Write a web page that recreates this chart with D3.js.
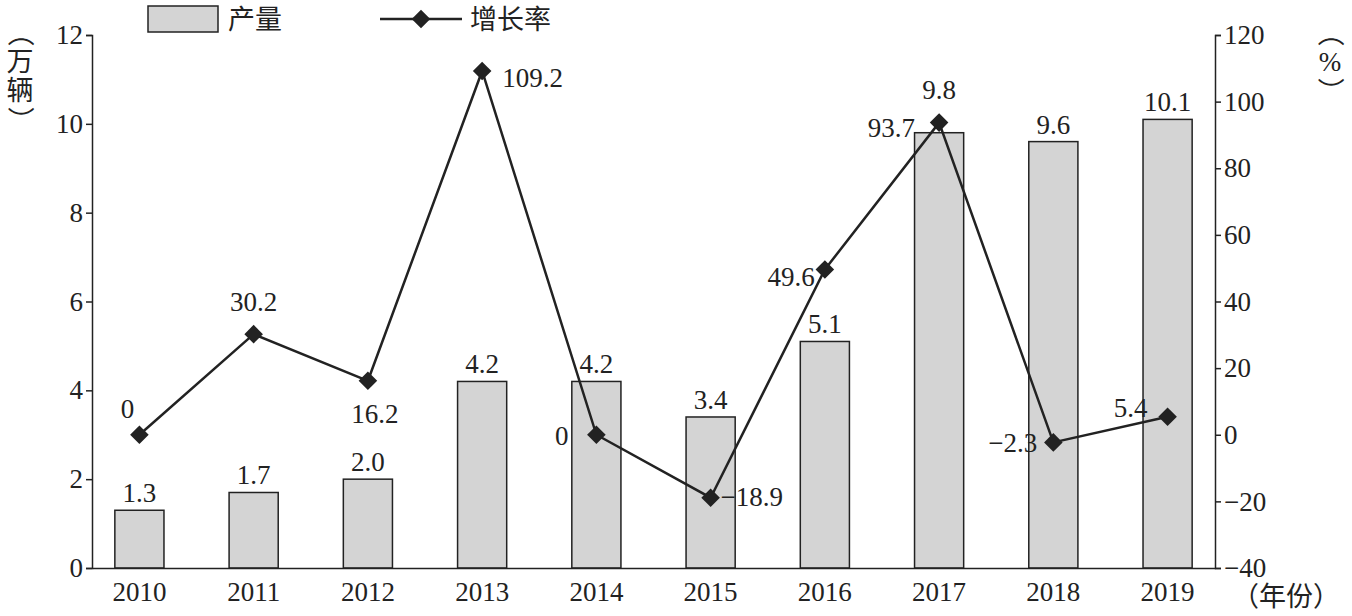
<!DOCTYPE html>
<html><head><meta charset="utf-8">
<script src="https://cdn.jsdelivr.net/npm/d3@7"></script>
<style>body{margin:0;background:#fff}text{font-family:"Liberation Serif","Noto Sans CJK SC",serif;fill:#222}</style>
</head><body>
<script>
// data
var years = ["2010","2011","2012","2013","2014","2015","2016","2017","2018","2019"];
var output = [1.3, 1.7, 2.0, 4.2, 4.2, 3.4, 5.1, 9.8, 9.6, 10.1];
var growth = [0, 30.2, 16.2, 109.2, 0, -18.9, 49.6, 93.7, -2.3, 5.4];
var leftTicks = [0, 2, 4, 6, 8, 10, 12];
var rightTicks = [-40, -20, 0, 20, 40, 60, 80, 100, 120];

var w = 1352, h = 616;
var fs = 27;
var margin = {top: 35, right: 137, bottom: 48, left: 92};
var svg = d3.select("body").append("svg").attr("width", w).attr("height", h);

var x = d3.scaleBand().domain(years).range([margin.left, w - margin.right]).paddingInner(0.57).paddingOuter(0.2);
var yL = d3.scaleLinear().domain([0, 12]).range([h - margin.bottom, margin.top]);
var yR = d3.scaleLinear().domain([-40, 120]).range([h - margin.bottom, margin.top]);

// bars
svg.selectAll("rect.bar").data(output).enter().append("rect")
  .attr("x", (d, i) => x(years[i]))
  .attr("y", d => yL(d))
  .attr("width", x.bandwidth())
  .attr("height", d => yL(0) - yL(d))
  .attr("fill", "#d4d4d4").attr("stroke", "#222").attr("stroke-width", 1.5);

svg.selectAll("text.bl").data(output).enter().append("text")
  .attr("x", (d, i) => x(years[i]) + x.bandwidth() / 2)
  .attr("y", (d, i) => yL(d) - (i === 7 ? 34 : 8))
  .attr("text-anchor", "middle").attr("font-size", fs)
  .text(d => d.toFixed(1));

// axes
var axL = svg.append("g").attr("transform", `translate(${margin.left},0)`)
  .call(d3.axisLeft(yL).tickValues(leftTicks).tickSize(6).tickFormat(d3.format("d")));
var axR = svg.append("g").attr("transform", `translate(${w - margin.right},0)`)
  .call(d3.axisRight(yR).tickValues(rightTicks).tickSize(6).tickFormat(d => d < 0 ? "\u2212" + (-d) : d));
var axB = svg.append("g").attr("transform", `translate(0,${h - margin.bottom})`)
  .call(d3.axisBottom(x).tickSize(0).tickPadding(14));
[axL, axR, axB].forEach(function(a){
  a.selectAll("text").attr("font-size", fs).attr("fill", "#222");
  a.selectAll("line,path").attr("stroke", "#222").attr("stroke-width", 1.5);
});

// line
var cx = i => x(years[i]) + x.bandwidth() / 2;
svg.append("path").datum(growth)
  .attr("d", d3.line().x((d, i) => cx(i)).y(d => yR(d)))
  .attr("fill", "none").attr("stroke", "#222").attr("stroke-width", 2.5);
svg.selectAll("path.dot").data(growth).enter().append("path")
  .attr("d", d3.symbol(d3.symbolDiamond2, 220))
  .attr("transform", (d, i) => `translate(${cx(i)},${yR(d)})`)
  .attr("fill", "#222");

// label offsets [dx, dy, anchor]
var off = [[-12,-17,"middle"],[0,-23,"middle"],[7,42,"middle"],[20,16,"start"],[-28,10,"end"],
           [10,8,"start"],[-10,16,"end"],[-24,14,"end"],[-16,10,"end"],[-20,0,"end"]];
svg.selectAll("text.gl").data(growth).enter().append("text")
  .attr("x", (d, i) => cx(i) + off[i][0])
  .attr("y", (d, i) => yR(d) + off[i][1])
  .attr("text-anchor", (d, i) => off[i][2]).attr("font-size", fs)
  .text(d => d < 0 ? "\u2212" + (-d) : d);

// axis titles
function vtitle(xp, y0, chars){
  chars.forEach(function(c, i){
    svg.append("text").attr("x", xp).attr("y", y0 + i * 29)
      .attr("text-anchor", "middle").attr("font-size", fs)
      .attr("transform", c === "（" || c === "）" ? `rotate(90,${xp},${y0 + i*29 - 9})` : null)
      .text(c);
  });
}
vtitle(20, 42, ["（","万","辆","）"]);
vtitle(1330, 42, ["（","%","）"]);
svg.append("text").attr("x", 1232).attr("y", 606).attr("font-size", fs).text("（年份）");

// legend
svg.append("rect").attr("x", 148).attr("y", 6).attr("width", 70).attr("height", 26)
  .attr("fill", "#d4d4d4").attr("stroke", "#222").attr("stroke-width", 1.5);
svg.append("text").attr("x", 228).attr("y", 29).attr("font-size", fs).text("产量");
svg.append("line").attr("x1", 380).attr("x2", 462).attr("y1", 19).attr("y2", 19)
  .attr("stroke", "#222").attr("stroke-width", 2.5);
svg.append("path").attr("d", d3.symbol(d3.symbolDiamond2, 220))
  .attr("transform", "translate(421,19)").attr("fill", "#222");
svg.append("text").attr("x", 470).attr("y", 29).attr("font-size", fs).text("增长率");
</script>
</body></html>
